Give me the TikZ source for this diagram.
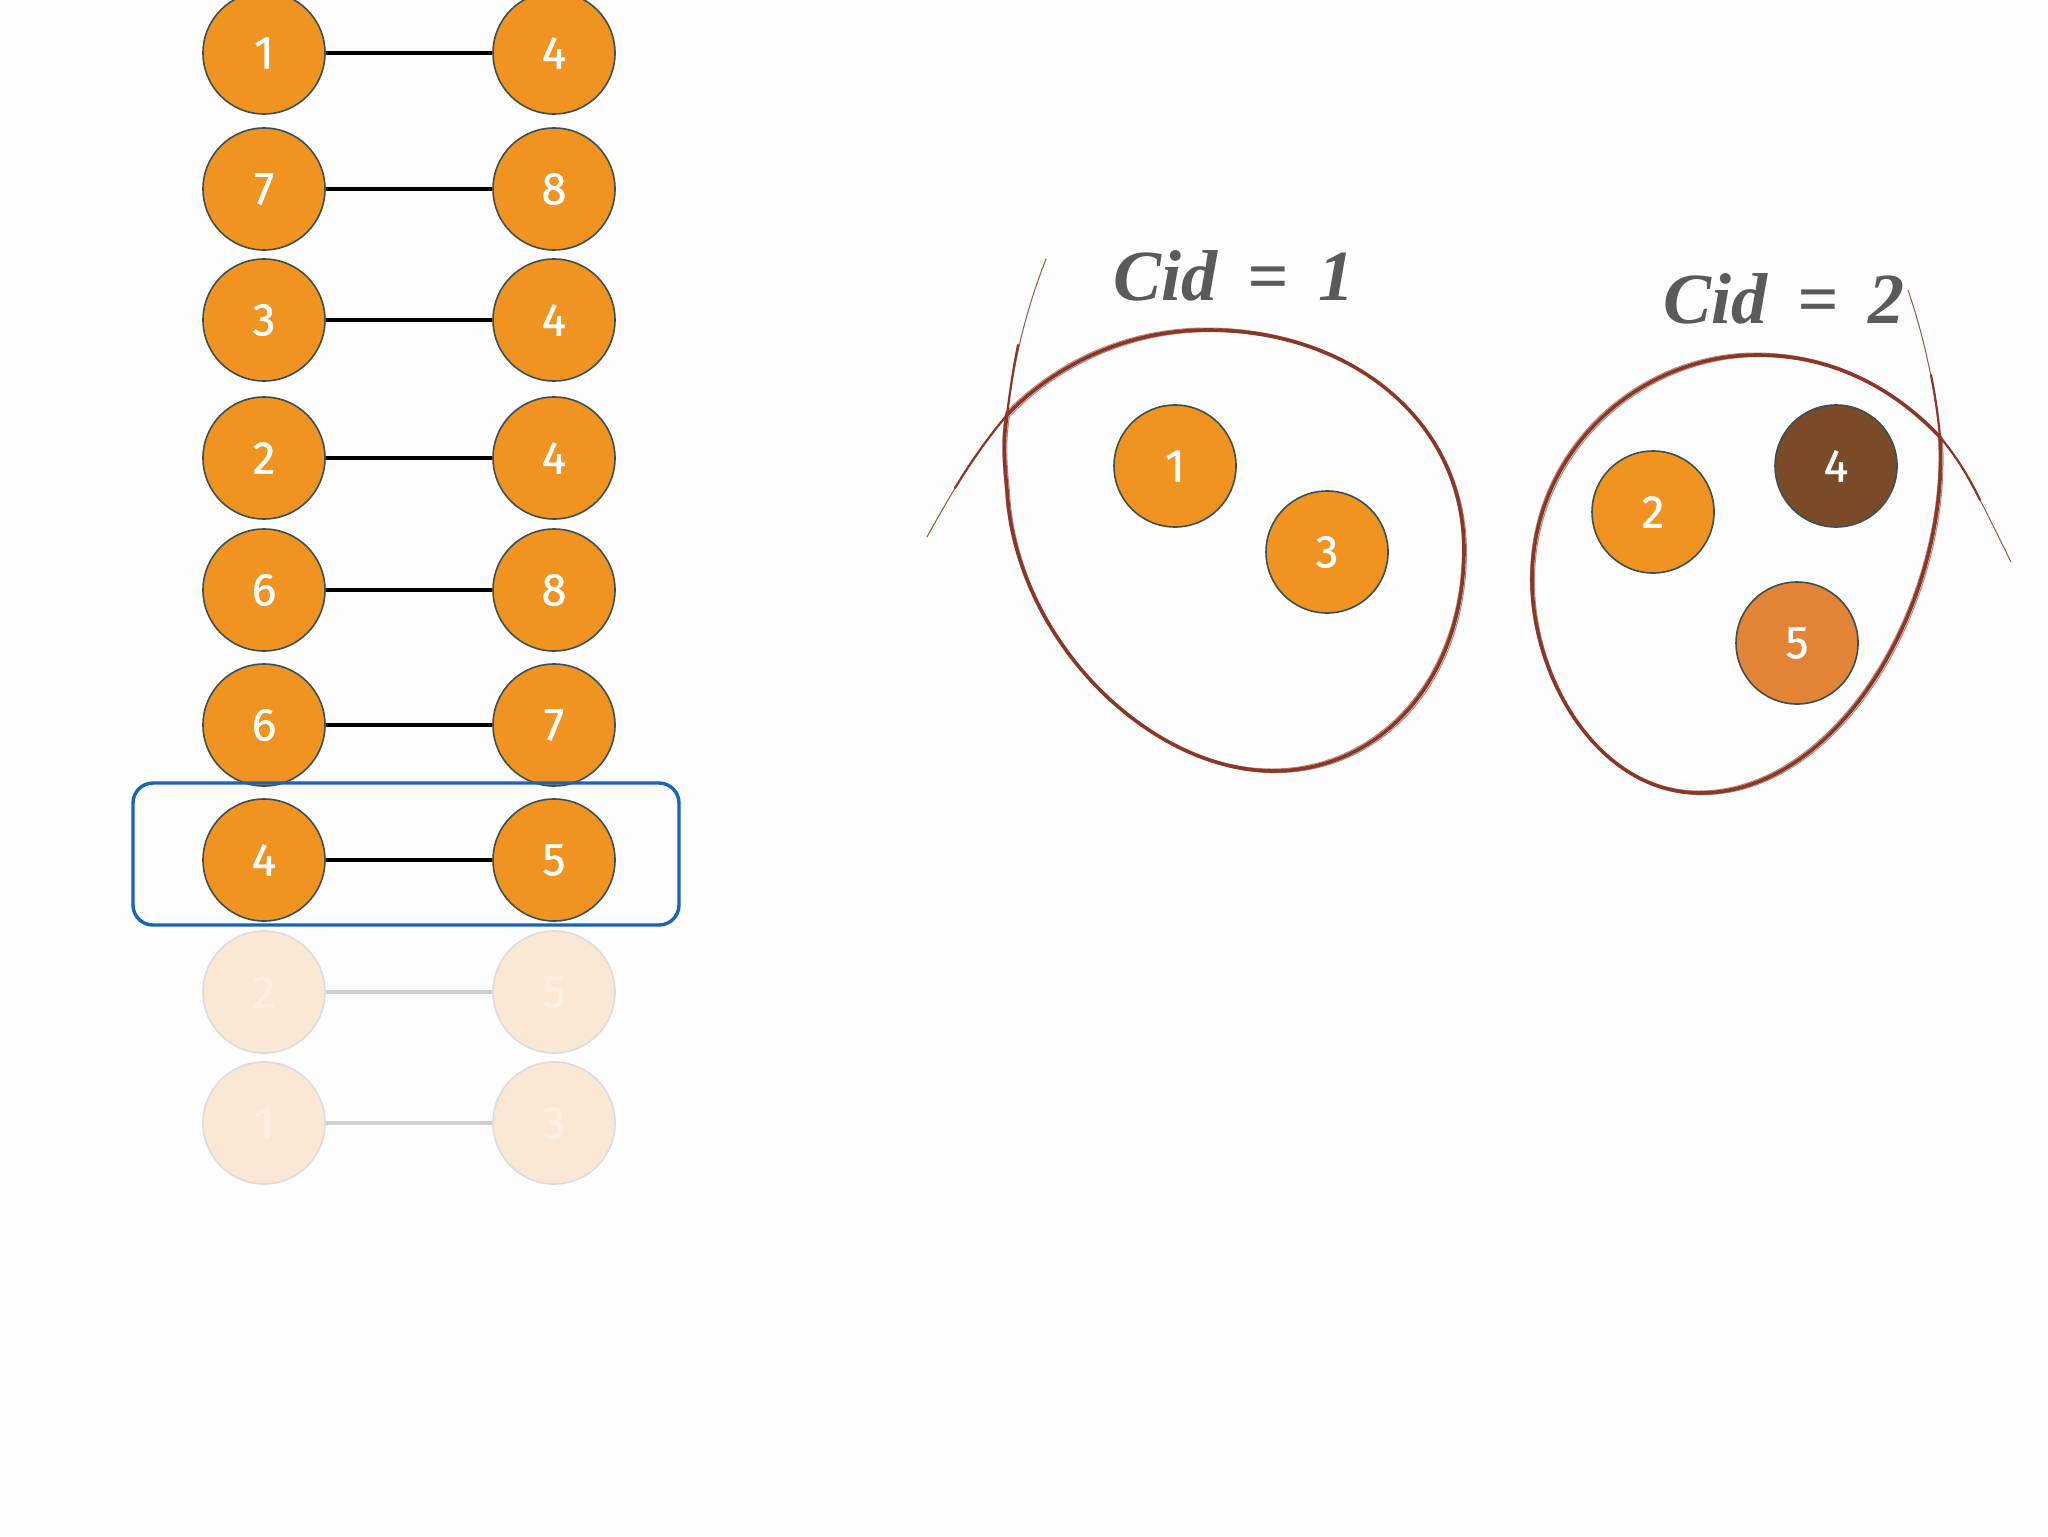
\documentclass[tikz,border=0pt]{standalone}
\usepackage{fontspec}
\newfontfamily\digitfont{Fira Sans}[FakeBold=0.7]
\newfontfamily\cidfont{Liberation Serif}
\definecolor{nodeorange}{HTML}{F19320}
\definecolor{nodeborder}{HTML}{3A5052}
\definecolor{nodebrown}{HTML}{7B4B29}
\definecolor{nodelight}{HTML}{E38336}
\definecolor{fadefill}{HTML}{FBE8D4}
\definecolor{fadeborder}{HTML}{DCDCE0}
\definecolor{fadeline}{HTML}{CFCFD3}
\definecolor{boxblue}{HTML}{1863BC}
\definecolor{sketch}{HTML}{8A3726}
\definecolor{labelgray}{HTML}{5A5A5C}
\definecolor{bgcol}{HTML}{FDFDFD}
\begin{document}
\begin{tikzpicture}[x=0.5pt,y=-0.5pt,
  vnode/.style={circle, draw=nodeborder, line width=0.8pt, fill=nodeorange,
    minimum size=61pt, inner sep=0pt, text=white,
    font=\digitfont\fontsize{23}{23}\selectfont},
  fnode/.style={vnode, fill=fadefill, draw=fadeborder, text=white, text opacity=0.3},
  pairedge/.style={line width=1.7pt, black},
  fadeedge/.style={line width=1.7pt, fadeline},
  bluebox/.style={draw=boxblue, line width=1.7pt, rounded corners=10pt},
  cidlabel/.style={text=labelgray, anchor=base, inner sep=0pt,
    font=\cidfont\fontsize{36}{36}\selectfont\bfseries\itshape},
  eggmain/.style={draw=sketch, line width=1.8pt, line cap=round},
  eggthin/.style={draw=sketch, line width=0.5pt, opacity=0.6},
  arcthin/.style={draw=sketch, line width=0.5pt, opacity=0.85, line cap=round},
  arcmid/.style={draw=sketch, line width=1.1pt, line cap=round}
]
\useasboundingbox (0,0) rectangle (2048,1536);
\fill[bgcol] (0,0) rectangle (2048,1536);
\begin{scope}
\clip (0,0) rectangle (2048,1536);
% pair list
\foreach \a/\b/\y [count=\i] in {1/4/53, 7/8/189, 3/4/320, 2/4/458, 6/8/590, 6/7/725, 4/5/860} {
  \node[vnode] (L\i) at (264,\y) {\a};
  \node[vnode] (R\i) at (554,\y) {\b};
  \draw[pairedge] (L\i) -- (R\i);
}
\node[fnode] (L8) at (264,992) {2};
\node[fnode] (R8) at (554,992) {5};
\draw[fadeedge] (L8) -- (R8);
\node[fnode] (L9) at (264,1123) {1};
\node[fnode] (R9) at (554,1123) {3};
\draw[fadeedge] (L9) -- (R9);
\draw[bluebox] (133,783) rectangle (679,925);

% cluster 1: hand-drawn loop crossing itself at (1007,415)
\def\eggone{(1007,415) .. controls (1003,440) and (1004,460) .. (1007,490)
  .. controls (1015,640) and (1150,771) .. (1273,771)
  .. controls (1380,771) and (1464,680) .. (1464,550)
  .. controls (1464,420) and (1350,330) .. (1208,330)
  .. controls (1120,330) and (1050,370) .. (1007,415)}
\draw[eggmain] \eggone;
\draw[eggthin, xshift=1.2pt, yshift=-0.8pt] \eggone;
\draw[eggthin, xshift=-0.8pt, yshift=1pt] \eggone;
% overshoots
\draw[arcthin] (1007,415) .. controls (1014,360) and (1026,310) .. (1046,259);
\draw[arcmid] (1007,415) .. controls (1010,390) and (1014,365) .. (1018,345);
\draw[arcthin] (1007,415) .. controls (980,445) and (950,495) .. (927,537);
\draw[arcmid] (1007,415) .. controls (990,435) and (972,460) .. (955,488);

% cluster 2: hand-drawn loop crossing itself at (1940,437)
\def\eggtwo{(1940,437) .. controls (1950,600) and (1840,793) .. (1700,793)
  .. controls (1600,793) and (1532,680) .. (1532,580)
  .. controls (1532,450) and (1640,355) .. (1757,355)
  .. controls (1840,355) and (1900,395) .. (1940,437)}
\draw[eggmain] \eggtwo;
\draw[eggthin, xshift=1.2pt, yshift=-0.8pt] \eggtwo;
\draw[eggthin, xshift=-0.8pt, yshift=1pt] \eggtwo;
\draw[arcthin] (1940,437) .. controls (1935,390) and (1925,340) .. (1908,290);
\draw[arcmid] (1940,437) .. controls (1938,415) and (1935,395) .. (1931,375);
\draw[arcthin] (1940,437) .. controls (1965,465) and (1990,520) .. (2011,562);
\draw[arcmid] (1940,437) .. controls (1955,455) and (1968,475) .. (1980,500);

\node[vnode] (c1) at (1175,466) {1};
\node[vnode] (c3) at (1327,552) {3};
\node[vnode] (c2) at (1653,512) {2};
\node[vnode, fill=nodebrown] (c4) at (1836,466) {4};
\node[vnode, fill=nodelight] (c5) at (1797,643) {5};

\node[cidlabel] (cid1) at (1234,300) {Cid\hspace{0.42em}=\hspace{0.42em}1};
\node[cidlabel] (cid2) at (1784,323) {Cid\hspace{0.42em}=\hspace{0.42em}2};
\end{scope}
\end{tikzpicture}
\end{document}
